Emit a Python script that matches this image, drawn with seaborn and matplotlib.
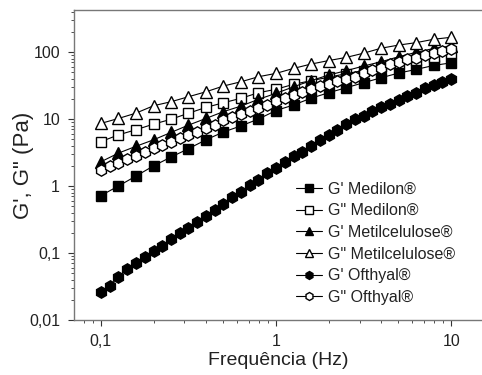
import numpy as np
import pandas as pd
import matplotlib
matplotlib.use("Agg")
import matplotlib.pyplot as plt
from matplotlib.ticker import FixedLocator, FuncFormatter, LogLocator, NullFormatter
import seaborn as sns

# ---- data ----
freq_21 = [0.1, 0.126, 0.158, 0.2, 0.251, 0.316, 0.398, 0.501, 0.631, 0.794, 1.0,
           1.26, 1.58, 2.0, 2.51, 3.16, 3.98, 5.01, 6.31, 7.94, 10.0]
freq_41 = [0.1, 0.112, 0.126, 0.141, 0.158, 0.178, 0.2, 0.224, 0.251, 0.282, 0.316,
           0.355, 0.398, 0.447, 0.501, 0.562, 0.631, 0.708, 0.794, 0.891, 1.0,
           1.12, 1.26, 1.41, 1.58, 1.78, 2.0, 2.24, 2.51, 2.82, 3.16, 3.55, 3.98,
           4.47, 5.01, 5.62, 6.31, 7.08, 7.94, 8.91, 10.0]

g1_medilon = [0.72, 1.0, 1.4, 2.0, 2.7, 3.6, 4.9, 6.4, 7.9, 10, 13.4, 16.2, 20.4,
              24.7, 29.3, 34.8, 41.3, 48.5, 55, 63, 69]
g2_medilon = [4.6, 5.8, 6.9, 8.4, 9.9, 12.2, 14.9, 17.5, 20.4, 24.7, 27.8, 33, 37.3,
              42, 47.5, 53, 60, 68, 76, 85, 96]
g1_metil = [2.3, 3.1, 3.9, 4.9, 6.3, 8.1, 10.2, 12.9, 15.6, 19.7, 24.2, 30.3, 37.3,
            45.4, 52.6, 61.8, 71.6, 85, 99, 113, 123]
g2_metil = [8.6, 10.2, 12.2, 15.8, 18.1, 21.5, 25.5, 31.1, 36, 42.8, 48, 57, 66,
            74.6, 83, 96, 114, 127, 138, 155, 166]
g1_ofthyal = [0.0264, 0.0321, 0.0443, 0.0571, 0.0716, 0.0863, 0.108, 0.128, 0.160,
              0.197, 0.239, 0.287, 0.361, 0.439, 0.538, 0.678, 0.822, 1.035, 1.22,
              1.55, 1.84, 2.3, 2.8, 3.25, 3.95, 4.86, 5.8, 6.9, 8.3, 9.9, 11.1, 13.3,
              14.9, 16.7, 19.2, 22, 24.2, 28.7, 32.2, 36, 39.2]
g2_ofthyal = [1.73, 1.99, 2.23, 2.5, 2.8, 3.25, 3.65, 4.09, 4.58, 5.15, 5.77, 6.46,
              7.26, 8.14, 9.66, 10.8, 11.9, 13.2, 14.7, 16.2, 18.8, 20.4, 22.8, 25.5,
              27.8, 31.1, 33.5, 36.5, 39.2, 42.8, 48, 53.9, 58.3, 65.5, 70.2, 78.6,
              82.2, 90.2, 95.7, 103.5, 111]

labels = ["G' Medilon®", 'G" Medilon®', "G' Metilcelulose®",
          'G" Metilcelulose®', "G' Ofthyal®", 'G" Ofthyal®']

sns.set_style("ticks")
plt.rcParams["font.family"] = ["Liberation Sans", "DejaVu Sans"]

fig = plt.figure(figsize=(4.82, 3.75), dpi=100)
ax = fig.add_axes([74 / 482, 55 / 375, 1 - 74 / 482, 310 / 375])

series = [
    (freq_21, g1_medilon, "s", "black", 7.4),
    (freq_21, g2_medilon, "s", "white", 7.4),
    (freq_21, g1_metil, "^", "black", 8.4),
    (freq_21, g2_metil, "^", "white", 8.4),
    (freq_41, g1_ofthyal, "h", "black", 8.2),
    (freq_41, g2_ofthyal, "h", "white", 8.2),
]
for (x, y, m, fc, ms), lab in zip(series, labels):
    df = pd.DataFrame({"f": x, "g": y})
    sns.lineplot(data=df, x="f", y="g", ax=ax, color="black", linewidth=0.8,
                 marker=m, markersize=ms, markerfacecolor=fc,
                 markeredgecolor="black", markeredgewidth=1.0, label=lab)

ax.set_xscale("log")
ax.set_yscale("log")
ax.set_xlim(0.0702, 15.0)
ax.set_ylim(0.01, 424)

comma = FuncFormatter(lambda v, p: ("%g" % v).replace(".", ","))
ax.xaxis.set_major_locator(FixedLocator([0.1, 1, 10]))
ax.yaxis.set_major_locator(FixedLocator([0.01, 0.1, 1, 10, 100]))
ax.xaxis.set_major_formatter(comma)
ax.yaxis.set_major_formatter(comma)
ax.xaxis.set_minor_locator(LogLocator(base=10, subs=np.arange(2, 10)))
ax.yaxis.set_minor_locator(LogLocator(base=10, subs=np.arange(2, 10)))
ax.xaxis.set_minor_formatter(NullFormatter())
ax.yaxis.set_minor_formatter(NullFormatter())

ax.tick_params(which="major", direction="out", length=4, width=0.8,
               colors="#333333", labelsize=11.5, labelcolor="#222222", pad=6)
ax.tick_params(which="minor", direction="out", length=2.2, width=0.6, colors="#333333")
ax.tick_params(top=False, right=False)
ax.spines["right"].set_visible(False)
for s in ax.spines.values():
    s.set_color("#777777")
    s.set_linewidth(1.0)

ax.set_xlabel("Frequência (Hz)", fontsize=14, color="#222222", labelpad=2)
ax.set_ylabel('G\', G" (Pa)', fontsize=16, color="#222222")
ax.yaxis.set_label_coords(-0.097, 0.5)

leg = ax.legend(loc="upper left", bbox_to_anchor=(290 / 482, 1 - 175 / 375),
                bbox_transform=fig.transFigure, frameon=False, fontsize=11.5,
                handlelength=1.6, handletextpad=0.35, labelspacing=0.42,
                markerscale=0.7, borderaxespad=0)
for t in leg.get_texts():
    t.set_color("#222222")

fig.savefig("out.png", dpi=100)
